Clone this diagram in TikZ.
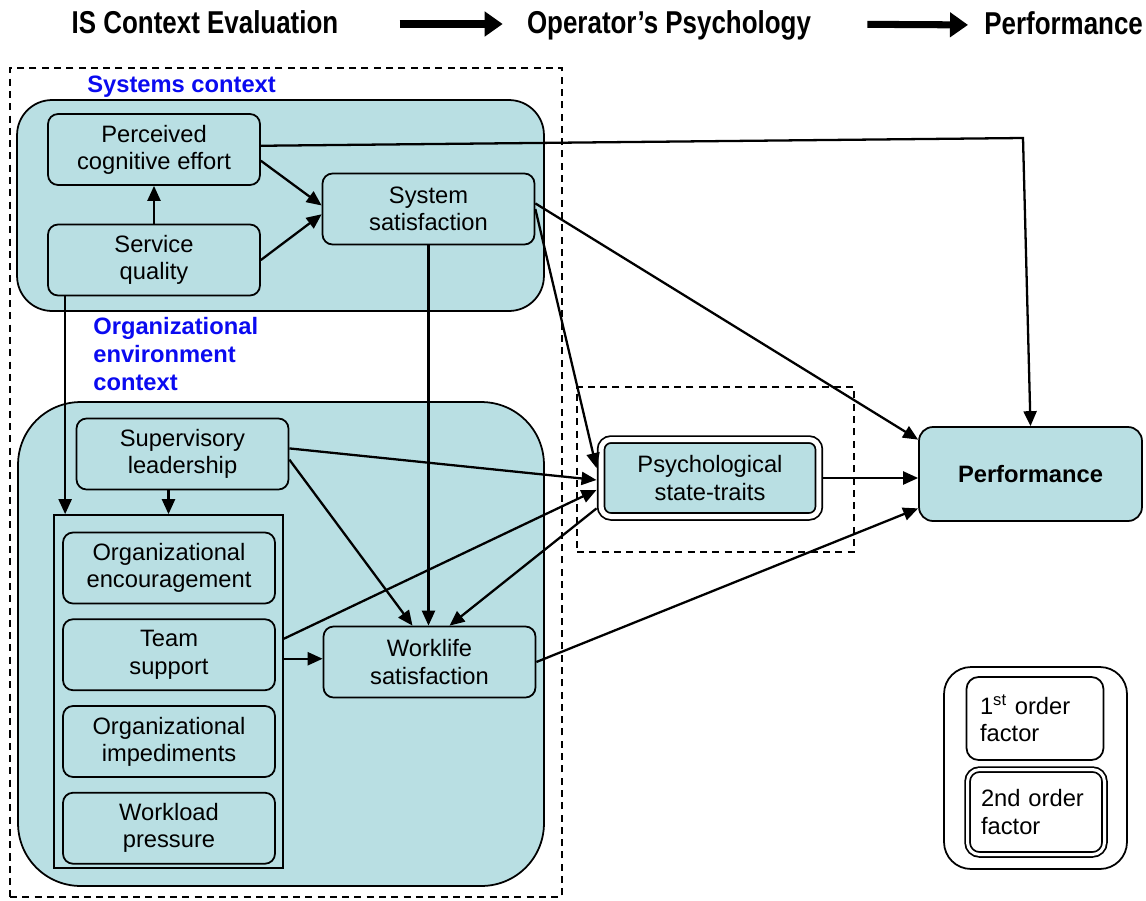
\documentclass[tikz,border=0pt]{standalone}
\usepackage{fontspec}
\setmainfont{Liberation Sans}
\newfontfamily\headfont{Liberation Sans}[FakeStretch=0.82]
\usepackage{tikz}
\usetikzlibrary{arrows.meta,positioning,calc}
\definecolor{Ink}{HTML}{000000}
\definecolor{Teal}{HTML}{B9DFE3}
\definecolor{CtxBlue}{HTML}{0A0AF0}
\tikzset{
  factor/.style={
    draw=Ink, rounded corners=0.2cm, line width=1pt,
    fill=Teal, align=center, minimum width=4.24cm, minimum height=1.42cm,
    inner sep=2pt, font=\fontsize{13.5}{15.5}\selectfont
  },
  factorTwo/.style={factor,double,double distance=0.1cm,outer sep=0.09cm},
  ctx/.style={draw=Ink,line width=1pt,fill=Teal},
  zone/.style={draw=Ink,dashed,dash pattern=on 4pt off 3pt,line width=.8pt},
  keybox/.style={
    draw=Ink, rounded corners=0.24cm, line width=1pt, fill=white,
    align=left, text width=2.2cm, inner xsep=0.27cm, minimum height=1.66cm,
    font=\fontsize{13.5}{15.5}\selectfont
  },
  ctxlabel/.style={font=\bfseries\fontsize{13.5}{15.8}\selectfont,text=CtxBlue,align=left,inner sep=0pt},
  headline/.style={font=\headfont\bfseries\fontsize{18}{20}\selectfont,inner sep=0pt},
  arr/.style={-{Triangle[length=3mm,width=2.6mm]},line width=1.3pt,draw=Ink},
  lead/.style={-{Triangle[length=3.6mm,width=4.8mm]},line width=4pt,draw=Ink}
}
\begin{document}
\begin{tikzpicture}[x=0.02cm,y=-0.02cm]
  \useasboundingbox (0,0) rectangle (1146,900);
  % stage headings
  \node[headline,anchor=base] (hdIS) at (205,33) {IS Context Evaluation};
  \node[headline,anchor=base] (hdPsy) at (669,33) {Operator’s Psychology};
  \node[headline,anchor=base west] (hdPerf) at (984,34) {Performance};
  \draw[lead,shorten <=1.22cm,shorten >=0.48cm] ([yshift=0.18cm]hdIS.base east) -- ([yshift=0.18cm]hdPsy.base west);
  \draw[lead,shorten <=1.12cm,shorten >=0.32cm] ([yshift=0.18cm]hdPsy.base east) -- ([yshift=0.18cm]hdPerf.base west);

  % containers
  \node[zone,minimum width=11.04cm,minimum height=16.58cm] (isZone) at (286,482.5) {};
  \node[ctx,rounded corners=0.7cm,minimum width=10.54cm,minimum height=4.22cm] (sysCtx) at (280.5,205.5) {};
  \node[ctx,rounded corners=1.25cm,minimum width=10.52cm,minimum height=9.68cm] (orgCtx) at (281,644) {};
  \node[draw=Ink,line width=1pt,minimum width=4.58cm,minimum height=7.06cm] (orgGroup) at (168.5,691.5) {};
  \node[zone,minimum width=5.54cm,minimum height=3.3cm] (psyZone) at (715.5,469.5) {};
  \node[ctxlabel,anchor=base west] (sysLabel) at (87,92) {Systems context};
  \node[ctxlabel,anchor=north west] (orgLabel) at (93,317) {Organizational\\environment\\context};

  % factors
  \node[factor] (effort) at (154,149.5) {Perceived\\cognitive effort};
  \node[factor] (service) at (154,260) {Service\\quality};
  \node[factor] (sysSat) at (428.5,209) {System\\satisfaction};
  \node[factor] (leader) at (182.5,454) {Supervisory\\leadership};
  \node[factor] (encourage) at (169,568) {Organizational\\encouragement};
  \node[factor,below=0.28cm of encourage] (team) {Team\\support};
  \node[factor,below=0.28cm of team] (impede) {Organizational\\impediments};
  \node[factor,below=0.28cm of impede] (workload) {Workload\\pressure};
  \node[factor] (worklife) at (429.5,662) {Worklife\\satisfaction};
  \node[factorTwo,minimum width=4.36cm,minimum height=1.54cm] (psych) at (710,478) {Psychological\\state-traits};
  \node[factor,font=\bfseries\fontsize{13.5}{15.5}\selectfont,minimum width=4.46cm,minimum height=1.88cm,rounded corners=0.28cm] (perf) at (1030.5,474) {Performance};

  % legend
  \node[draw=Ink,line width=1pt,rounded corners=0.54cm,minimum width=3.66cm,minimum height=4.04cm] (key) at (1035.5,768) {};
  \node[keybox] (keyFirst) at (1035,718.5) {1\textsuperscript{st} order\\factor};
  \node[keybox,double,double distance=0.06cm,minimum height=1.7cm] (keySecond) at (1036,812) {2nd order\\factor};

  % paths
  \coordinate (bendPerf) at (1023,138);
  \coordinate (svcDrop) at ([xshift=0.36cm]service.south west);
  \coordinate (teamOut) at ($(team.east -| orgGroup.east)+(0,-16)$);
  \coordinate (teamSide) at ($(team.east -| orgGroup.east)+(0,4)$);
  \draw[arr] (service.north) -- (service.north |- effort.south);
  \draw[arr] (effort.-6) -- ([yshift=2pt]sysSat.west);
  \draw[arr] (service.east) -- ([yshift=-3pt]sysSat.west);
  \draw[arr] (effort.2) -- (bendPerf) -- (perf.north);
  \draw[arr] (sysSat.south) -- (sysSat.south |- worklife.north);
  \draw[arr] (sysSat.east) -- (psych.175);
  \draw[arr] (sysSat.3) -- (perf.163);
  \draw[arr] (svcDrop) -- (svcDrop |- orgGroup.north);
  \draw[arr] (leader.south -| orgGroup.north) -- (orgGroup.north);
  \draw[arr] (leader.3) -- (psych.181);
  \draw[arr] (leader.-3) -- ([xshift=-0.34cm]worklife.north);
  \draw[arr] (teamOut) -- (psych.186);
  \draw[arr] (teamSide) -- (teamSide -| worklife.west);
  \draw[arr] (psych.195) -- ([xshift=0.4cm]worklife.north);
  \draw[arr] (psych.east) -- (psych.east -| perf.west);
  \draw[arr] (worklife.east) -- (perf.197);
\end{tikzpicture}
\end{document}
